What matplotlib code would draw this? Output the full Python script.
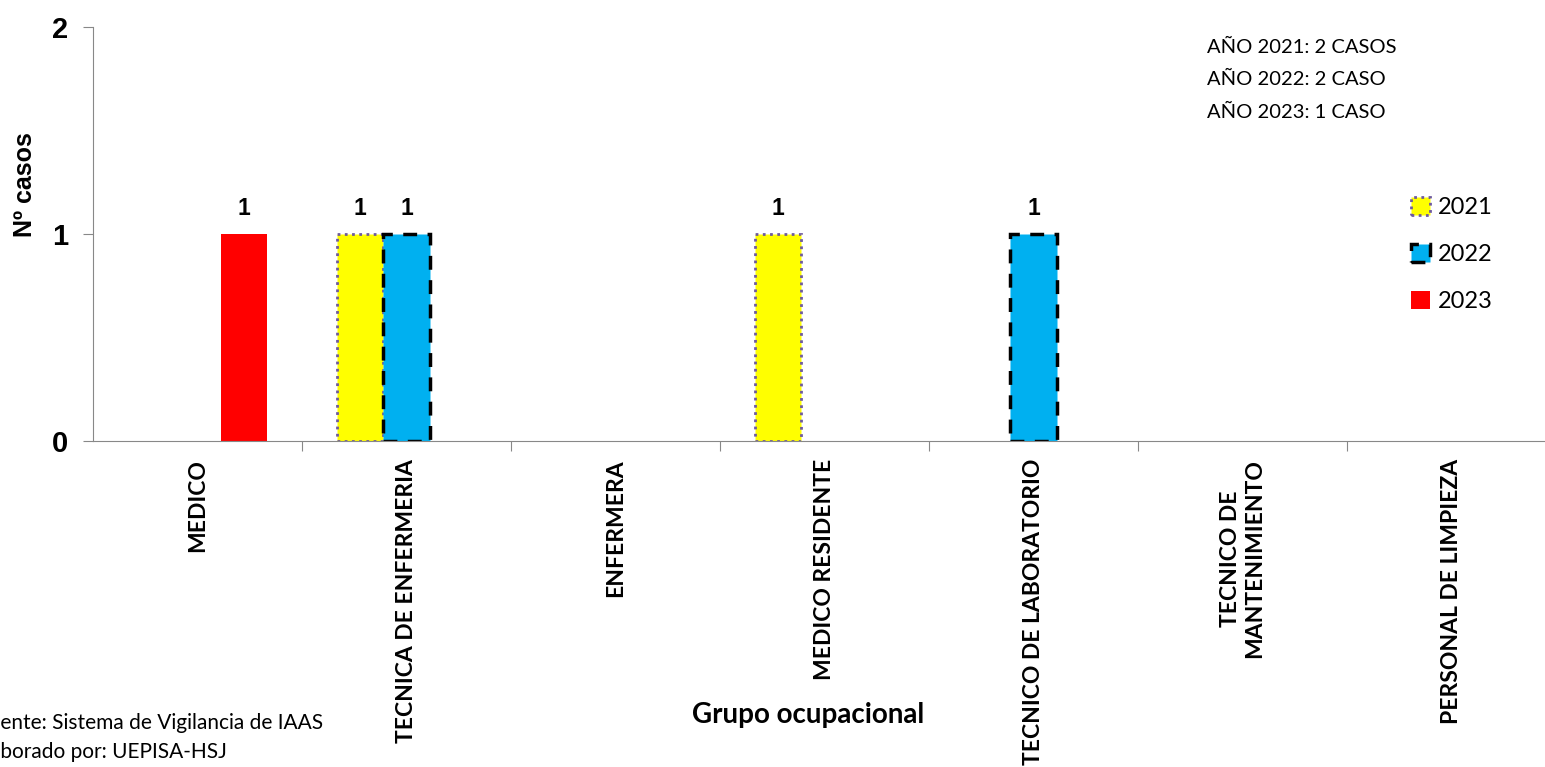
import numpy as np
import matplotlib
matplotlib.use("Agg")
import matplotlib.pyplot as plt
from matplotlib.patches import Patch

plt.rcParams['font.family'] = ['Lato', 'DejaVu Sans']

# datos
categorias = ['MEDICO', 'TECNICA DE ENFERMERIA', 'ENFERMERA', 'MEDICO RESIDENTE',
              'TECNICO DE LABORATORIO', 'TECNICO DE\nMANTENIMIENTO', 'PERSONAL DE LIMPIEZA']
casos_2021 = [0, 1, 0, 1, 0, 0, 0]
casos_2022 = [0, 1, 0, 0, 1, 0, 0]
casos_2023 = [1, 0, 0, 0, 0, 0, 0]
resumen = ['AÑO 2021: 2 CASOS', 'AÑO 2022: 2 CASO', 'AÑO 2023: 1 CASO']

W, H = 1545, 767
fig = plt.figure(figsize=(W / 100, H / 100), dpi=100)
ax = fig.add_axes([93 / W, 326 / H, 7 * 209 / W, 414 / H])

x = np.arange(len(categorias))
ancho = 0.222

series = [
    (casos_2021, -ancho, '2021', dict(facecolor='#FFFF00', edgecolor='#6E5A9E', linewidth=2, linestyle=(0, (1, 1.6)))),
    (casos_2022, 0, '2022', dict(facecolor='#00B0F0', edgecolor='black', linewidth=2.5, linestyle=(0, (4, 3)))),
    (casos_2023, ancho, '2023', dict(facecolor='#FF0000', edgecolor='none', linewidth=0)),
]

handles = []
for valores, off, nombre, estilo in series:
    barras = ax.bar(x + off, valores, width=ancho, **estilo)
    for b, v in zip(barras, valores):
        if v == 0:
            b.set_visible(False)
    ax.bar_label(barras, labels=[str(v) if v else '' for v in valores],
                 padding=10, fontsize=16.5, fontweight='bold', family='Liberation Sans')
    handles.append(Patch(label=nombre, **estilo))

ax.set_xlim(-0.5, len(categorias) - 0.5)
ax.set_ylim(0, 2)
ax.set_yticks([0, 1, 2])
ax.set_yticklabels(['0', '1', '2'], fontsize=21, fontweight='bold', family='Liberation Sans')
ax.tick_params(axis='y', length=7, color='#888888', pad=11)

# ticks en los limites de categoria, etiquetas en el centro
ax.set_xticks(np.arange(len(categorias) - 1) + 0.5)
ax.set_xticklabels([])
ax.tick_params(axis='x', which='major', length=7, color='#888888', direction='out')
ax.set_xticks(x, minor=True)
ax.set_xticklabels(categorias, minor=True, rotation=90, fontsize=16.5, fontweight='bold')
ax.tick_params(axis='x', which='minor', length=0, pad=13)

for s in ['top', 'right']:
    ax.spines[s].set_visible(False)
for s in ['left', 'bottom']:
    ax.spines[s].set_color('#888888')

fig.text(25 / W, 1 - 185 / H, 'Nº casos', rotation=90, ha='center', va='center',
         fontsize=18, fontweight='bold', family='Liberation Sans')
fig.text(808 / W, 1 - 715 / H, 'Grupo ocupacional', ha='center', va='center',
         fontsize=20, fontweight='bold')

for i, t in enumerate(resumen):
    fig.text(1207 / W, 1 - (47 + 32.5 * i) / H, t, ha='left', va='center', fontsize=14.5)

fig.text(-23 / W, 1 - 723 / H, 'Fuente: Sistema de Vigilancia de IAAS', ha='left', va='center', fontsize=15)
fig.text(-27 / W, 1 - 752 / H, 'Elaborado por: UEPISA-HSJ', ha='left', va='center', fontsize=15)

fig.legend(handles=handles, loc='upper left', bbox_to_anchor=(1399 / W, 1 - 185 / H),
           frameon=False, fontsize=17, handlelength=0.8, handleheight=0.8,
           handletextpad=0.35, labelspacing=1.1, borderpad=0)

fig.savefig('out.png', dpi=100)
